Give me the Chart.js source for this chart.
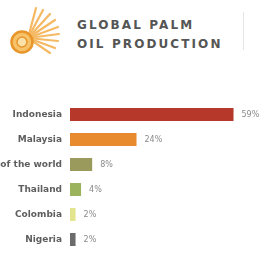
<!DOCTYPE html>
<html>
<head>
<meta charset="utf-8">
<script src="https://cdn.jsdelivr.net/npm/chart.js@4.4.0/dist/chart.umd.min.js"></script>
<style>
    html, body { margin: 0; padding: 0; background: #fff; }
    body { width: 264px; height: 271px; position: relative; overflow: hidden; font-family: "DejaVu Sans", sans-serif; }
    #logo { position: absolute; left: 4px; top: 2px; }
    #title {
        position: absolute; left: 77px; top: 16px;
        font-family: "DejaVu Sans", sans-serif; font-weight: bold;
        font-size: 12px; line-height: 19px; letter-spacing: 2.1px; color: #555;
    }
    #divider { position: absolute; left: 243px; top: 12px; width: 1px; height: 38px; background: #e4e4e4; }
    #chart { position: absolute; left: 0; top: 102px; }
</style>
</head>
<body>
<svg id="logo" width="60" height="58" viewBox="0 0 60 58">
    <g stroke="#f2a230" stroke-width="2.2" stroke-linecap="round" opacity="0.75">
        <line x1="24" y1="36" x2="32" y2="6"/>
        <line x1="24" y1="36" x2="39" y2="8"/>
        <line x1="24" y1="36" x2="46" y2="12"/>
        <line x1="24" y1="36" x2="51" y2="18"/>
        <line x1="24" y1="36" x2="54" y2="25"/>
        <line x1="24" y1="36" x2="55" y2="32"/>
        <line x1="24" y1="36" x2="54" y2="39"/>
        <line x1="24" y1="36" x2="51" y2="46"/>
        <line x1="24" y1="36" x2="46" y2="51"/>
    </g>
    <circle cx="18" cy="40" r="10.5" fill="#f7c36a" stroke="#e8952a" stroke-width="2.5"/>
    <circle cx="18" cy="40" r="5" fill="#fbe0a8" stroke="#e8952a" stroke-width="1.5"/>
</svg>
<div id="title">GLOBAL PALM<br>OIL PRODUCTION</div>
<div id="divider"></div>
<canvas id="chart" width="264" height="150"></canvas>
<script>
const countries = ["Indonesia", "Malaysia", "Rest of the world", "Thailand", "Colombia", "Nigeria"];
const shares = [59, 24, 8, 4, 2, 2];
const barColors = ["#b5382b", "#e88a2e", "#9a9a5c", "#9cb35e", "#e3e48e", "#6b6b6b"];

const valueLabels = {
    id: "valueLabels",
    afterDatasetsDraw(chart) {
        const ctx = chart.ctx;
        const meta = chart.getDatasetMeta(0);
        ctx.save();
        ctx.font = "8px 'DejaVu Sans', sans-serif";
        ctx.fillStyle = "#8a8a8a";
        ctx.textBaseline = "middle";
        meta.data.forEach((bar, i) => {
            ctx.fillText(shares[i] + "%", bar.x + 8, bar.y);
        });
        ctx.restore();
    }
};

new Chart(document.getElementById("chart"), {
    type: "bar",
    data: {
        labels: countries,
        datasets: [{
            data: shares,
            backgroundColor: barColors,
            barPercentage: 0.52,
            categoryPercentage: 1
        }]
    },
    options: {
        indexAxis: "y",
        responsive: false,
        animation: false,
        layout: { padding: 0 },
        plugins: { legend: { display: false }, tooltip: { enabled: false } },
        scales: {
            x: { display: false, min: 0, max: 70 },
            y: {
                grid: { display: false, drawTicks: false },
                border: { display: false },
                ticks: {
                    color: "#5e5e5e",
                    padding: 8,
                    font: { family: "'DejaVu Sans', sans-serif", size: 9, weight: "bold" }
                },
                afterFit(scale) {
                    scale.width = 70;
                    scale.paddingTop = 0;
                    scale.paddingBottom = 0;
                }
            }
        }
    },
    plugins: [valueLabels]
});
</script>
</body>
</html>
